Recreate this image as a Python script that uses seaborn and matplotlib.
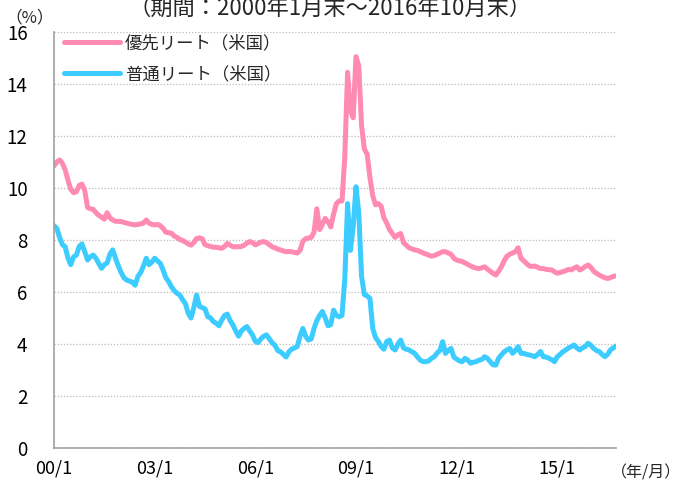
"""
plot.py
=======

米国リートの配当利回り推移（優先リート／普通リート）を再現する。
期間：2000年1月末～2016年10月末（月次）
"""

import matplotlib.pyplot as plt
import pandas as pd
import seaborn as sns

# --------------------------------------------------------------------------- #
# データ（月次、2000/1 ～ 2016/10、単位：%）
# --------------------------------------------------------------------------- #
PREFERRED = [
    # 2000
    10.85, 11.0, 11.08, 10.95, 10.7, 10.3, 9.95, 9.82, 9.85, 10.1, 10.15, 9.9,
    # 2001
    9.25, 9.2, 9.18, 9.05, 8.95, 8.88, 8.8, 9.05, 8.85, 8.77, 8.72, 8.72,
    # 2002
    8.71, 8.68, 8.65, 8.62, 8.6, 8.58, 8.6, 8.62, 8.65, 8.77, 8.65, 8.6,
    # 2003
    8.58, 8.6, 8.55, 8.45, 8.3, 8.28, 8.26, 8.15, 8.1, 8.02, 7.98, 7.92,
    # 2004
    7.85, 7.8, 7.9, 8.06, 8.08, 8.05, 7.82, 7.78, 7.75, 7.72, 7.72, 7.7,
    # 2005
    7.68, 7.75, 7.87, 7.8, 7.74, 7.74, 7.74, 7.75, 7.8, 7.88, 7.94, 7.9,
    # 2006
    7.81, 7.86, 7.92, 7.94, 7.9, 7.82, 7.74, 7.7, 7.65, 7.62, 7.58, 7.55,
    # 2007
    7.56, 7.55, 7.52, 7.5, 7.6, 7.95, 8.05, 8.08, 8.1, 8.3, 9.2, 8.4,
    # 2008
    8.6, 8.83, 8.7, 8.5, 9.0, 9.4, 9.5, 9.5, 11.2, 14.45, 13.0, 12.7,
    # 2009
    15.05, 14.7, 12.4, 11.5, 11.3, 10.4, 9.7, 9.35, 9.4, 9.3, 8.85, 8.65,
    # 2010
    8.4, 8.25, 8.1, 8.2, 8.25, 7.9, 7.8, 7.7, 7.66, 7.62, 7.6, 7.55,
    # 2011
    7.5, 7.46, 7.42, 7.38, 7.4, 7.45, 7.5, 7.55, 7.55, 7.5, 7.45, 7.3,
    # 2012
    7.23, 7.2, 7.17, 7.12, 7.06, 7.0, 6.95, 6.92, 6.9, 6.93, 6.97, 6.88,
    # 2013
    6.8, 6.72, 6.65, 6.8, 6.97, 7.2, 7.38, 7.45, 7.5, 7.55, 7.7, 7.3,
    # 2014
    7.2, 7.1, 7.0, 6.98, 7.0, 6.95, 6.9, 6.9, 6.87, 6.86, 6.85, 6.78,
    # 2015
    6.72, 6.75, 6.78, 6.82, 6.87, 6.85, 6.92, 6.97, 6.85, 6.9, 6.98, 7.04,
    # 2016
    6.95, 6.8, 6.72, 6.65, 6.6, 6.55, 6.52, 6.55, 6.6, 6.62,
]

COMMON = [
    # 2000
    8.55, 8.45, 8.1, 7.82, 7.74, 7.3, 7.05, 7.35, 7.42, 7.75, 7.85, 7.55,
    # 2001
    7.23, 7.35, 7.42, 7.3, 7.1, 6.91, 7.05, 7.12, 7.45, 7.62, 7.3, 7.0,
    # 2002
    6.75, 6.55, 6.46, 6.42, 6.38, 6.26, 6.6, 6.75, 7.0, 7.3, 7.05, 7.15,
    # 2003
    7.3, 7.2, 7.1, 6.85, 6.55, 6.4, 6.2, 6.05, 5.95, 5.88, 5.7, 5.55,
    # 2004
    5.18, 5.0, 5.4, 5.88, 5.45, 5.4, 5.35, 5.05, 5.0, 4.86, 4.8, 4.7,
    # 2005
    4.92, 5.1, 5.15, 4.9, 4.73, 4.5, 4.3, 4.5, 4.6, 4.67, 4.5, 4.35,
    # 2006
    4.1, 4.05, 4.2, 4.3, 4.35, 4.2, 4.05, 3.95, 3.75, 3.7, 3.6, 3.5,
    # 2007
    3.7, 3.8, 3.85, 3.9, 4.3, 4.6, 4.3, 4.15, 4.2, 4.6, 4.9, 5.1,
    # 2008
    5.25, 5.0, 4.7, 4.75, 5.3, 5.1, 5.05, 5.1, 6.5, 9.4, 7.6, 8.5,
    # 2009
    10.05, 9.05, 6.6, 5.9, 5.85, 5.75, 4.6, 4.25, 4.1, 3.9, 3.8, 4.1,
    # 2010
    4.15, 3.85, 3.77, 4.0, 4.15, 3.85, 3.8, 3.77, 3.7, 3.64, 3.5, 3.38,
    # 2011
    3.32, 3.32, 3.35, 3.45, 3.51, 3.65, 3.75, 4.09, 3.64, 3.75, 3.83, 3.5,
    # 2012
    3.42, 3.35, 3.32, 3.45, 3.38, 3.26, 3.3, 3.32, 3.38, 3.4, 3.51, 3.45,
    # 2013
    3.32, 3.2, 3.19, 3.45, 3.58, 3.7, 3.77, 3.83, 3.64, 3.75, 3.9, 3.64,
    # 2014
    3.64, 3.6, 3.58, 3.55, 3.51, 3.6, 3.71, 3.51, 3.5, 3.45, 3.4, 3.32,
    # 2015
    3.51, 3.6, 3.7, 3.77, 3.85, 3.9, 3.96, 3.85, 3.77, 3.85, 3.9, 4.03,
    # 2016
    3.95, 3.83, 3.75, 3.71, 3.6, 3.51, 3.6, 3.77, 3.85, 3.92,
]

SERIES_NAMES = ["優先リート（米国）", "普通リート（米国）"]
TICK_MONTHS = [0, 36, 72, 108, 144, 180]
TICK_LABELS = ["00/1", "03/1", "06/1", "09/1", "12/1", "15/1"]
Y_TICKS = [0, 2, 4, 6, 8, 10, 12, 14, 16]

TITLE = "（期間：2000年1月末～2016年10月末）"

# --------------------------------------------------------------------------- #
# スタイル
# --------------------------------------------------------------------------- #
COLORS = ["#FF8AB2", "#3CCCFF"]
AXIS_GRAY = "#A0A0A0"


def set_style() -> None:
    sns.set_theme(style="white")
    plt.rcParams["font.family"] = ["Noto Sans CJK JP", "DejaVu Sans"]
    plt.rcParams.update({
        "axes.edgecolor": AXIS_GRAY,
        "axes.linewidth": 1.2,
        "xtick.color": AXIS_GRAY,
        "ytick.color": AXIS_GRAY,
        "xtick.labelcolor": "black",
        "ytick.labelcolor": "black",
    })


def main() -> None:
    set_style()
    months = list(range(len(PREFERRED)))
    df = pd.DataFrame({"month": months, "pref": PREFERRED, "common": COMMON})

    fig = plt.figure(figsize=(6.81, 4.87), dpi=100)
    ax = fig.add_axes([54 / 681, 39 / 487, 562 / 681, 416 / 487])

    for col, name, color in zip(["pref", "common"], SERIES_NAMES, COLORS):
        sns.lineplot(data=df, x="month", y=col, ax=ax, color=color,
                     linewidth=3.6, label=name, solid_joinstyle="round",
                     solid_capstyle="round")

    ax.set_xlim(0, len(PREFERRED) - 1)
    ax.set_ylim(0, 16)
    ax.set_xticks(TICK_MONTHS)
    ax.set_xticklabels(TICK_LABELS)
    ax.set_yticks(Y_TICKS)
    ax.set_xlabel("")
    ax.set_ylabel("")
    ax.tick_params(axis="x", direction="in", length=5, width=1, pad=8,
                   labelsize=13)
    ax.tick_params(axis="y", direction="in", length=4, width=1, pad=19,
                   labelsize=13.5)
    ax.yaxis.grid(True, linestyle=(0, (1, 1.5)), color="#BBBBBB", linewidth=0.9)
    ax.xaxis.grid(False)
    ax.set_axisbelow(True)
    sns.despine(ax=ax)
    ax.spines["left"].set_color(AXIS_GRAY)
    ax.spines["bottom"].set_color(AXIS_GRAY)

    leg = ax.legend(loc="upper left", bbox_to_anchor=(0.018, 0.995),
                    frameon=False, fontsize=12.5, handlelength=3.2,
                    handletextpad=0.3, labelspacing=0.75, borderpad=0,
                    borderaxespad=0)
    for line in leg.get_lines():
        line.set_linewidth(3.6)
        line.set_solid_capstyle("round")

    fig.text(330 / 681, 1 - 15 / 487, TITLE, ha="center", va="baseline",
             fontsize=16)
    fig.text(30 / 681, 1 - 22 / 487, "（%）", ha="center", va="baseline",
             fontsize=12)
    fig.text(646 / 681, 1 - 477 / 487, "（年/月）", ha="center",
             va="baseline", fontsize=11.5)

    fig.savefig("out.png", dpi=100)


if __name__ == "__main__":
    main()
